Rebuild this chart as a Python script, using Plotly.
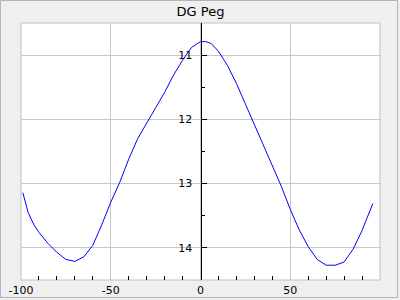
import plotly.graph_objects as go

phase = [-99, -96, -93, -90, -85, -80, -75, -70, -65, -60, -55, -50, -45, -40, -35, -30,
         -25, -20, -15, -10, -5, 0, 3, 6, 10, 15, 20, 25, 30, 35, 40, 45, 50, 55, 60,
         65, 70, 75, 80, 85, 90, 96]
mag = [13.14, 13.45, 13.63, 13.76, 13.93, 14.07, 14.18, 14.21, 14.14, 13.96, 13.64, 13.29,
       12.98, 12.62, 12.30, 12.07, 11.82, 11.58, 11.31, 11.08, 10.88, 10.79, 10.79, 10.82,
       10.94, 11.16, 11.44, 11.76, 12.08, 12.40, 12.72, 13.04, 13.40, 13.72, 13.98, 14.18,
       14.27, 14.27, 14.22, 14.02, 13.73, 13.31]

x_ticks = [-100, -50, 0, 50]
y_ticks = [11, 12, 13, 14]
title_text = "DG Peg"

W, H = 400, 300
L, R, T, B = 21, 20, 23, 20
pw, ph = W - L - R, H - T - B

def px(p):
    return (p - L) / pw

def py(p):
    return (H - B - p) / ph

fig = go.Figure()
fig.add_trace(go.Scatter(x=phase, y=mag, mode="lines",
                         line=dict(color="#0000ff", width=1), hoverinfo="skip"))

font = dict(family="DejaVu Sans", size=11, color="black")
grid = "#c8c8c8"

fig.update_layout(
    width=W, height=H,
    margin=dict(l=L, r=R, t=T, b=B, pad=0, autoexpand=False),
    paper_bgcolor="#efefef", plot_bgcolor="white",
    showlegend=False,
    font=font,
    title=dict(text=title_text, x=0.5, xref="paper", xanchor="center",
               y=1 - 11 / H, yref="container", yanchor="middle",
               font=dict(family="DejaVu Sans", size=13, color="black")),
    xaxis=dict(range=[-100, 100], tickvals=x_ticks, ticktext=[str(v) for v in x_ticks],
               ticks="inside", ticklen=4, tickcolor=grid, showgrid=True, gridcolor=grid,
               gridwidth=1, zeroline=False, showline=False, tickfont=font,
               automargin=False, ticklabelstandoff=2,
               minor=dict(dtick=10, tick0=0, ticks="inside", ticklen=4, tickcolor="black",
                          showgrid=False)),
    yaxis=dict(range=[14.5, 10.5], tickvals=y_ticks, ticktext=[str(v) for v in y_ticks],
               anchor="free", position=0.5, side="left", automargin=False,
               ticks="inside", ticklen=5, tickcolor="black", showline=True,
               linecolor="black", linewidth=1, showgrid=True, gridcolor=grid, gridwidth=1,
               zeroline=False, tickfont=font, ticklabelstandoff=6,
               minor=dict(dtick=0.5, tick0=0, ticks="inside", ticklen=3, tickcolor="black",
                          showgrid=False)),
    shapes=[
        dict(type="rect", xref="paper", yref="paper", x0=0, x1=1, y0=0, y1=1,
             line=dict(color="#c0c0c0", width=1), layer="below"),
        dict(type="rect", xref="paper", yref="paper",
             x0=px(0.5), x1=px(397.5), y0=py(297.5), y1=py(0.5),
             line=dict(color="#b4b4b4", width=1), layer="below"),
    ],
)

fig.write_html("out.html")
